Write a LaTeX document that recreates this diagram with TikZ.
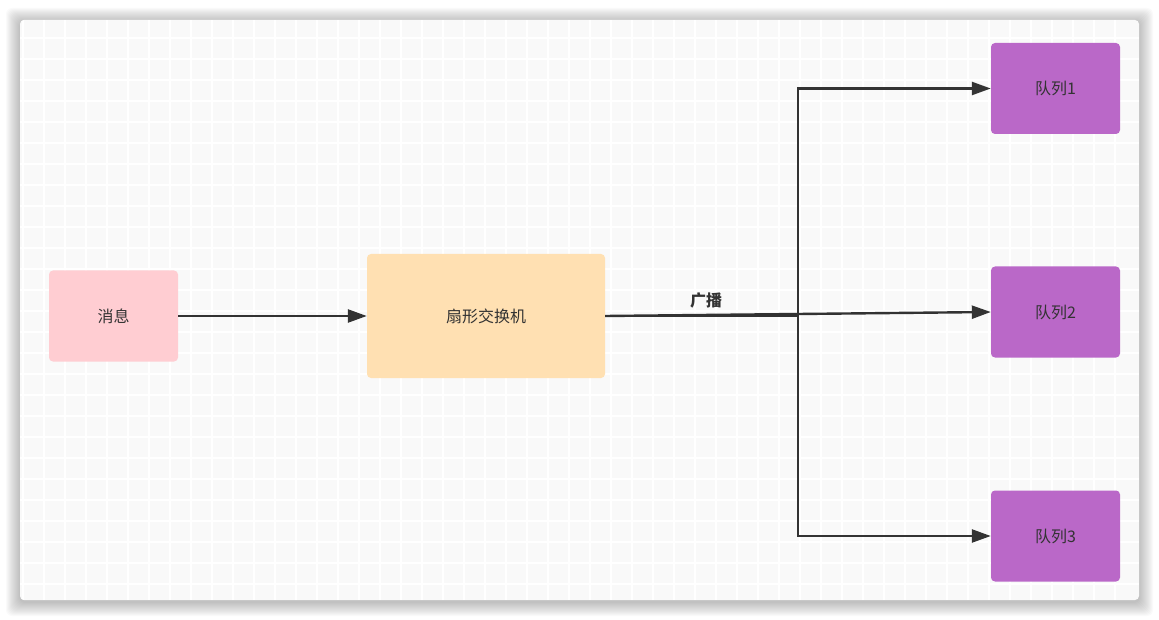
\documentclass[tikz,border=0pt]{standalone}
\usepackage{fontspec}
\setmainfont{Noto Sans CJK SC}
\usepackage{xcolor}
\usetikzlibrary{arrows.meta, positioning}
\definecolor{boardbg}{HTML}{F9F9F9}
\definecolor{msgpink}{HTML}{FFCDD2}
\definecolor{exorange}{HTML}{FFE0B2}
\definecolor{qpurple}{HTML}{BA68C8}
\definecolor{inkgray}{HTML}{333333}

\begin{document}
\begin{tikzpicture}[x=1pt, y=-1pt,
    box/.style={rectangle, rounded corners=4pt, inner sep=0pt, text=inkgray,
        font=\fontsize{16}{18}\selectfont},
    queue/.style={box, fill=qpurple, minimum width=129pt, minimum height=91pt},
    link/.style={draw=inkgray, line width=2.4pt, -{Triangle[length=19pt, width=13pt]}}]
        \useasboundingbox (0,0) rectangle (1159,620);
        % shadow and board
        \foreach \r in {1,...,14}
            \fill[black, opacity=0.02, rounded corners=6pt]
                ({20-\r},{22-\r}) rectangle ({1139+\r},{602+\r});
        \fill[boardbg, rounded corners=4pt] (20,20) rectangle (1139,600);
        \begin{scope}
            \clip[rounded corners=4pt] (20,20) rectangle (1139,600);
            \foreach \i in {0,...,52}
                \draw[white, line width=2pt] ({22.5+21*\i},20) -- ({22.5+21*\i},600);
            \foreach \j in {0,...,28}
                \draw[white, line width=2pt] (20,{17+21*\j}) -- (1139,{17+21*\j});
        \end{scope}
        % nodes
        \node[box, fill=msgpink, minimum width=129pt, minimum height=91pt] (msg) at (113.5,316) {消息};
        \node[box, fill=exorange, minimum width=238pt, minimum height=124pt] (ex) at (486,316) {扇形交换机};
        \node[queue] (q1) at (1055.5,88.5) {队列1};
        \node[queue] (q2) at (1055.5,312) {队列2};
        \node[queue] (q3) at (1055.5,536) {队列3};
        \coordinate (split) at (798,316);
        % connectors
        \draw[link] (msg.east) -- (ex.west);
        \draw[link] (ex.east) -- (split) |- (q1.west);
        \draw[link] (ex.east) -- (q2.west);
        \draw[link] (split) |- (q3.west);
        \node[text=inkgray, font=\fontsize{16}{18}\selectfont\bfseries] (bcast) at (706,300) {广播};
        \end{tikzpicture}
\end{document}
